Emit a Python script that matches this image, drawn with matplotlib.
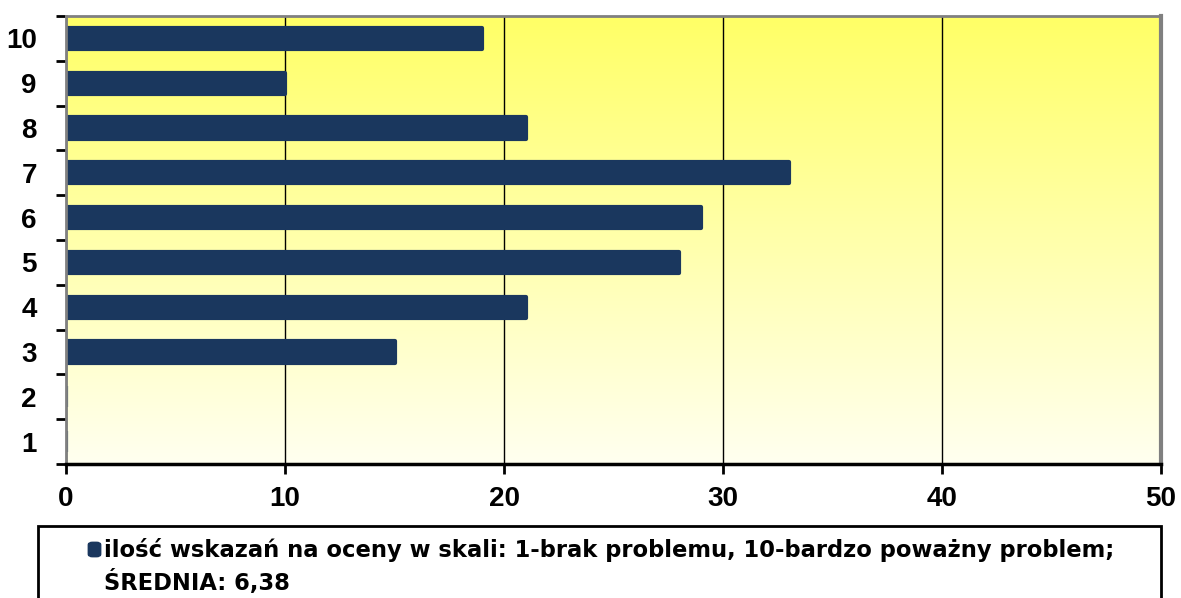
import numpy as np
import matplotlib
matplotlib.use("Agg")
import matplotlib.pyplot as plt
from matplotlib.colors import LinearSegmentedColormap
from matplotlib.patches import FancyBboxPatch

plt.rcParams['font.family'] = ['Liberation Sans', 'DejaVu Sans']
plt.rcParams['font.weight'] = 'bold'

categories = ['1', '2', '3', '4', '5', '6', '7', '8', '9', '10']
counts = [0, 0, 15, 21, 28, 29, 33, 21, 10, 19]
x_ticks = [0, 10, 20, 30, 40, 50]
legend_lines = ['ilość wskazań na oceny w skali: 1-brak problemu, 10-bardzo poważny problem;',
                'ŚREDNIA: 6,38']

bar_color = '#1a375e'
W, H = 1181, 598

fig = plt.figure(figsize=(W / 100, H / 100), dpi=100)
ax = fig.add_axes([66 / W, 1 - 464 / H, (1161 - 66) / W, (464 - 16) / H])

# vertical yellow gradient behind the bars
grad = LinearSegmentedColormap.from_list('bg', ['#fffff0', '#ffff66'])
ax.imshow(np.linspace(0, 1, 256).reshape(-1, 1), cmap=grad, origin='lower',
          aspect='auto', extent=[0, 1, 0, 1], transform=ax.transAxes, zorder=0)

y = np.arange(len(categories))
ax.barh(y, counts, height=0.47, color=bar_color, edgecolor=bar_color,
        linewidth=3, joinstyle='round', zorder=3)

ax.set_xlim(0, 50)
ax.set_ylim(-0.5, len(categories) - 0.5)
ax.set_xticks(x_ticks)
ax.set_xticklabels([str(t) for t in x_ticks], fontsize=20, fontweight='bold')
ax.set_yticks(y)
ax.set_yticklabels(categories, fontsize=20, fontweight='bold')
ax.set_yticks(np.arange(len(categories) + 1) - 0.5, minor=True)

ax.tick_params(axis='y', which='major', length=0, pad=21)
ax.tick_params(axis='y', which='minor', length=7, width=2, color='black')
ax.tick_params(axis='x', length=7, width=2, color='black', pad=9)

ax.grid(axis='x', color='black', linewidth=1, zorder=2)
ax.set_axisbelow(False)

for side in ['top', 'left']:
    ax.spines[side].set_color('#808080')
    ax.spines[side].set_linewidth(2)
ax.spines['right'].set_color('#808080')
ax.spines['right'].set_linewidth(3)
ax.spines['bottom'].set_color('black')
ax.spines['bottom'].set_linewidth(2.5)
for s in ax.spines.values():
    s.set_zorder(4)

# legend box below the plot
fig.patches.append(plt.Rectangle((38 / W, -0.05), (1161 - 38) / W, 1 - 526 / H + 0.05,
                                 transform=fig.transFigure, facecolor='white',
                                 edgecolor='black', linewidth=2))
fig.patches.append(FancyBboxPatch((89 / W, 1 - 556 / H), 11 / W, 13 / H,
                                  boxstyle='round,pad=0,rounding_size=0.003',
                                  transform=fig.transFigure, facecolor=bar_color,
                                  edgecolor=bar_color, linewidth=2))
for i, line in enumerate(legend_lines):
    fig.text(104 / W, 1 - (557 + 33 * i) / H, line, fontsize=16.3, fontweight='bold',
             family=['DejaVu Sans'], va='baseline', ha='left')

fig.savefig('out.png', dpi=100)
